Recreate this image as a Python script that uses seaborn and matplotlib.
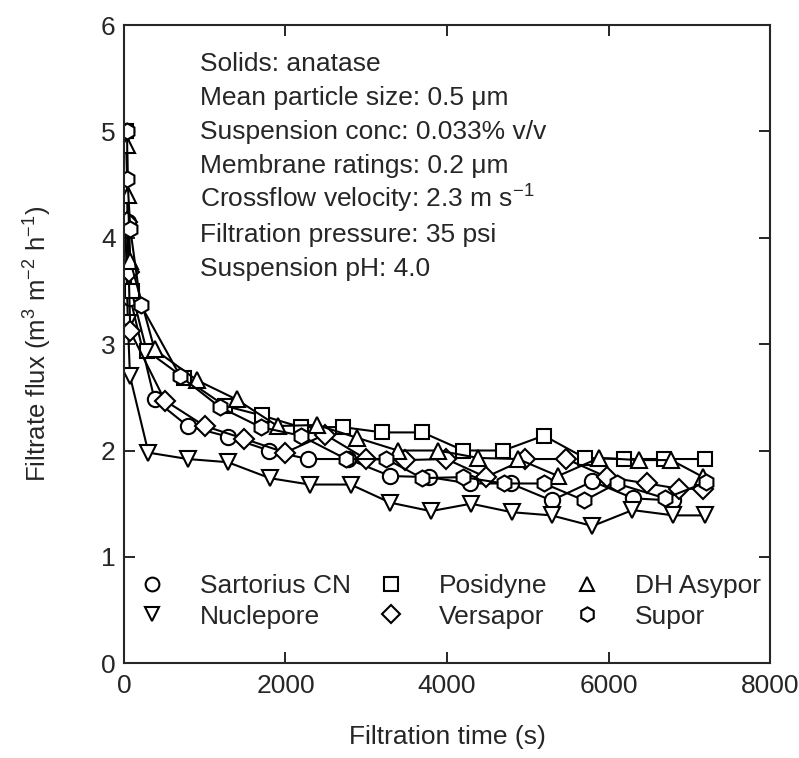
import matplotlib
matplotlib.use('Agg')
import matplotlib.pyplot as plt
from matplotlib.lines import Line2D
import pandas as pd
import seaborn as sns

sns.set_style('ticks')
plt.rcParams['font.family'] = ['Liberation Sans', 'DejaVu Sans']
plt.rcParams['mathtext.default'] = 'regular'

# data (time in s, flux in m3 m-2 h-1)
sartorius_t = [30, 50, 80, 380, 790, 1290, 1795, 2280, 2775, 3296, 3772, 4280, 4786, 5293, 5800, 6307, 6802]
sartorius_f = [5.0, 4.15, 3.43, 2.48, 2.23, 2.13, 2.0, 1.92, 1.92, 1.76, 1.75, 1.69, 1.69, 1.53, 1.71, 1.55, 1.53]

nuclepore_t = [20, 50, 76, 304, 792, 1287, 1807, 2300, 2808, 3296, 3800, 4298, 4800, 5293, 5800, 6295, 6802, 7195]
nuclepore_f = [4.1, 3.2, 2.7, 1.98, 1.92, 1.89, 1.74, 1.68, 1.68, 1.51, 1.43, 1.50, 1.42, 1.39, 1.29, 1.44, 1.39, 1.39]

posidyne_t = [30, 50, 95, 281, 750, 1250, 1705, 2187, 2707, 3201, 3696, 4203, 4697, 5198, 5705, 6193, 6688, 7195]
posidyne_f = [5.0, 4.1, 3.5, 2.94, 2.68, 2.42, 2.33, 2.22, 2.22, 2.17, 2.17, 2.0, 2.0, 2.14, 1.93, 1.92, 1.92, 1.92]

asypor_t = [40, 50, 80, 380, 906, 1395, 1902, 2390, 2884, 3391, 3886, 4387, 4880, 5374, 5882, 6378, 6774, 7170]
asypor_f = [4.87, 4.4, 3.78, 2.95, 2.66, 2.48, 2.23, 2.24, 2.12, 2.0, 2.0, 1.93, 1.92, 1.76, 1.93, 1.91, 1.91, 1.75]

versapor_t = [40, 60, 80, 507, 1001, 1490, 1997, 2491, 2997, 3480, 3990, 4480, 4970, 5478, 5978, 6480, 6875, 7170]
versapor_f = [4.15, 3.68, 3.12, 2.47, 2.23, 2.11, 1.98, 2.15, 1.92, 1.91, 1.92, 1.75, 1.92, 1.92, 1.75, 1.69, 1.64, 1.64]

supor_t = [40, 45, 80, 209, 697, 1185, 1692, 2187, 2750, 3250, 3690, 4200, 4700, 5200, 5700, 6100, 6700, 7200]
supor_f = [5.0, 4.55, 4.08, 3.37, 2.70, 2.41, 2.22, 2.14, 1.92, 1.92, 1.74, 1.75, 1.69, 1.69, 1.53, 1.69, 1.55, 1.70]

series = {
    'Sartorius CN': (sartorius_t, sartorius_f),
    'Nuclepore': (nuclepore_t, nuclepore_f),
    'Posidyne': (posidyne_t, posidyne_f),
    'Versapor': (versapor_t, versapor_f),
    'DH Asypor': (asypor_t, asypor_f),
    'Supor': (supor_t, supor_f),
}
markers = {'Sartorius CN': 'o', 'Nuclepore': 'v', 'Posidyne': 's',
           'Versapor': 'D', 'DH Asypor': '^', 'Supor': 'h'}
msizes = {'Sartorius CN': 11, 'Nuclepore': 11, 'Posidyne': 10.5,
          'Versapor': 10, 'DH Asypor': 11, 'Supor': 11.5}

df = pd.concat([pd.DataFrame({'time': t, 'flux': f, 'membrane': name})
                for name, (t, f) in series.items()], ignore_index=True)

info = ['Solids: anatase',
        'Mean particle size: 0.5 \u03bcm',
        'Suspension conc: 0.033% v/v',
        'Membrane ratings: 0.2 \u03bcm',
        'Crossflow velocity: 2.3 m s$^{-1}$',
        'Filtration pressure: 35 psi',
        'Suspension pH: 4.0']

fig = plt.figure(figsize=(7.99, 7.58), dpi=100)
ax = fig.add_axes([0.155, 0.125, 0.809, 0.842])

for name in series:
    sub = df[df['membrane'] == name]
    sns.lineplot(data=sub, x='time', y='flux', ax=ax, color='black', estimator=None,
                 marker=markers[name], markersize=msizes[name], markerfacecolor='white',
                 markeredgecolor='black', markeredgewidth=1.5, linewidth=1.5, legend=False)

ax.set_xlim(0, 8000)
ax.set_ylim(0, 6)
ax.set_xticks([0, 2000, 4000, 6000, 8000])
ax.set_yticks(range(7))
ax.tick_params(direction='in', top=True, right=True, length=8, width=1.4, labelsize=19)
ax.tick_params(axis='x', pad=8)
ax.tick_params(axis='y', pad=6)
for sp in ax.spines.values():
    sp.set_linewidth(1.5)
ax.set_xlabel('Filtration time (s)', fontsize=19, labelpad=19)
ax.set_ylabel('Filtrate flux (m$^3$ m$^{-2}$ h$^{-1}$)', fontsize=18.5, labelpad=34)

for i, line in enumerate(info):
    ax.text(0.118, 0.928 - i * 0.0535, line, transform=ax.transAxes,
            fontsize=19, va='baseline', ha='left')

handles = [Line2D([], [], linestyle='none', marker=markers[n], markersize=msizes[n] * 0.9,
                  markerfacecolor='white', markeredgecolor='black', markeredgewidth=1.5)
           for n in series]
ax.legend(handles, list(series.keys()), ncol=3, loc='lower left',
          bbox_to_anchor=(-0.014, 0.017), frameon=False, fontsize=19,
          handlelength=1.0, handletextpad=1.33, columnspacing=1.0, labelspacing=0.25)

fig.savefig('out.png', dpi=100)
